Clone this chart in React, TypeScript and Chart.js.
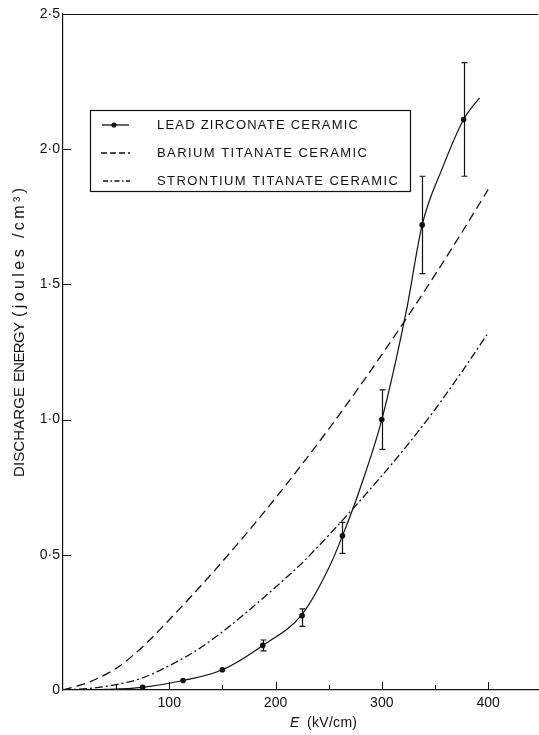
import React, { useEffect, useRef } from 'react';
import { Chart, registerables } from 'chart.js';

Chart.register(...registerables);

// Lead zirconate measured points with error bars
const leadE = [75, 113, 150, 188, 225, 263, 300, 338, 377];
const leadEnergy = [0.01, 0.035, 0.075, 0.165, 0.275, 0.57, 1.0, 1.72, 2.11];
const leadErrLow: (number | null)[] = [null, null, null, 0.145, 0.235, 0.505, 0.89, 1.54, 1.9];
const leadErrHigh: (number | null)[] = [null, null, null, 0.185, 0.3, 0.62, 1.11, 1.9, 2.32];

// Lead zirconate fitted curve
const leadCurveE = [0, 40, 75, 113, 150, 188, 225, 250, 263, 280, 300, 323, 338, 357, 377, 392];
const leadCurveEnergy = [0, 0.002, 0.01, 0.035, 0.075, 0.165, 0.28, 0.45, 0.57, 0.75, 1.0, 1.4, 1.72, 1.93, 2.11, 2.19];

// Barium titanate curve
const bariumE = [0, 25, 50, 75, 100, 125, 150, 175, 200, 225, 250, 275, 300, 325, 350, 375, 400];
const bariumEnergy = [0, 0.03, 0.08, 0.16, 0.26, 0.365, 0.475, 0.59, 0.71, 0.835, 0.965, 1.1, 1.24, 1.385, 1.535, 1.69, 1.85];

// Strontium titanate curve
const strontiumE = [0, 25, 50, 75, 100, 125, 150, 175, 200, 225, 250, 275, 300, 325, 350, 375, 400];
const strontiumEnergy = [0, 0.006, 0.02, 0.045, 0.09, 0.145, 0.215, 0.295, 0.38, 0.47, 0.572, 0.68, 0.792, 0.91, 1.037, 1.175, 1.32];

const seriesLabels = ['LEAD ZIRCONATE CERAMIC', 'BARIUM TITANATE CERAMIC', 'STRONTIUM TITANATE CERAMIC'];
const yAxisTitleParts = ['DISCHARGE', 'ENERGY', '(joules /cm³)'];
const xAxisTitleSymbol = 'E';
const xAxisTitleUnit = '(kV/cm)';
const xMajorTicks = [100, 200, 300, 400];
const xMinorTicks = [50, 150, 250, 350];
const yTicks = [0.5, 1.0, 1.5, 2.0];

const FONT = '"Liberation Sans", Arial, sans-serif';
const INK = '#111';

function zip(xs: number[], ys: number[]) {
  return xs.map((x, i) => ({ x, y: ys[i] }));
}

function fitText(ctx: CanvasRenderingContext2D, text: string, target: number) {
  (ctx as any).letterSpacing = '0px';
  const w0 = ctx.measureText(text).width;
  const n = text.length;
  const ls = n > 1 ? (target - w0) / (n - 1) : 0;
  (ctx as any).letterSpacing = `${ls}px`;
}

const decorPlugin = {
  id: 'decor',
  afterDatasetsDraw(chart: any) {
    const ctx: CanvasRenderingContext2D = chart.ctx;
    const xs = chart.scales.x;
    const ys = chart.scales.y;
    ctx.save();
    ctx.strokeStyle = INK;
    ctx.fillStyle = INK;
    ctx.lineWidth = 1.2;
    leadE.forEach((e, i) => {
      const lo = leadErrLow[i];
      const hi = leadErrHigh[i];
      if (lo == null || hi == null) return;
      const px = Math.round(xs.getPixelForValue(e)) + 0.5;
      const pl = ys.getPixelForValue(lo);
      const ph = ys.getPixelForValue(hi);
      ctx.beginPath();
      ctx.moveTo(px, pl);
      ctx.lineTo(px, ph);
      ctx.moveTo(px - 3, pl);
      ctx.lineTo(px + 3, pl);
      ctx.moveTo(px - 3, ph);
      ctx.lineTo(px + 3, ph);
      ctx.stroke();
    });
    ctx.restore();
  },
  afterDraw(chart: any) {
    const ctx: CanvasRenderingContext2D = chart.ctx;
    const xs = chart.scales.x;
    const ys = chart.scales.y;
    const area = chart.chartArea;
    ctx.save();
    ctx.strokeStyle = INK;
    ctx.fillStyle = INK;
    ctx.lineWidth = 1;
    ctx.beginPath();
    ctx.moveTo(area.left, area.top + 0.5);
    ctx.lineTo(area.right, area.top + 0.5);
    ctx.stroke();
    ctx.beginPath();
    xMajorTicks.forEach((v) => {
      const p = Math.round(xs.getPixelForValue(v)) + 0.5;
      ctx.moveTo(p, area.bottom);
      ctx.lineTo(p, area.bottom - 8);
    });
    xMinorTicks.forEach((v) => {
      const p = Math.round(xs.getPixelForValue(v)) + 0.5;
      ctx.moveTo(p, area.bottom);
      ctx.lineTo(p, area.bottom - 5);
    });
    yTicks.forEach((v) => {
      const p = Math.round(ys.getPixelForValue(v)) + 0.5;
      ctx.moveTo(area.left, p);
      ctx.lineTo(area.left + 8, p);
    });
    ctx.stroke();

    // legend box
    ctx.lineWidth = 1.2;
    ctx.strokeRect(90.5, 110.5, 320, 81);
    const rowY = [125, 153, 181];
    const textW = [201, 210, 241];
    ctx.lineWidth = 1.3;
    ctx.beginPath();
    ctx.moveTo(102, rowY[0]);
    ctx.lineTo(129, rowY[0]);
    ctx.stroke();
    ctx.beginPath();
    ctx.arc(114, rowY[0], 2.6, 0, Math.PI * 2);
    ctx.fill();
    ctx.setLineDash([6, 3]);
    ctx.beginPath();
    ctx.moveTo(101, rowY[1]);
    ctx.lineTo(130, rowY[1]);
    ctx.stroke();
    ctx.setLineDash([5, 2.5, 1.5, 2.5]);
    ctx.beginPath();
    ctx.moveTo(103, rowY[2]);
    ctx.lineTo(130, rowY[2]);
    ctx.stroke();
    ctx.setLineDash([]);
    ctx.font = `13px ${FONT}`;
    ctx.textBaseline = 'middle';
    ctx.textAlign = 'left';
    seriesLabels.forEach((t, i) => {
      fitText(ctx, t, textW[i]);
      ctx.fillText(t, 157, rowY[i]);
    });

    // y title, drawn in three words along the axis
    const spans = [
      [387, 477],
      [322, 382],
      [188, 317],
    ];
    const sizes = [15, 15, 16];
    ctx.save();
    ctx.translate(20, 0);
    ctx.rotate(-Math.PI / 2);
    ctx.textAlign = 'left';
    ctx.textBaseline = 'middle';
    yAxisTitleParts.forEach((t, i) => {
      const [a, b] = spans[i];
      ctx.font = `${sizes[i]}px ${FONT}`;
      fitText(ctx, t, b - a);
      ctx.fillText(t, -b, 0);
    });
    ctx.restore();

    // x title
    (ctx as any).letterSpacing = '0px';
    ctx.textAlign = 'left';
    ctx.textBaseline = 'middle';
    ctx.font = `italic 14px ${FONT}`;
    ctx.fillText(xAxisTitleSymbol, 290, 723);
    ctx.font = `14px ${FONT}`;
    fitText(ctx, xAxisTitleUnit, 50);
    ctx.fillText(xAxisTitleUnit, 307, 723);
    (ctx as any).letterSpacing = '0px';
    ctx.restore();
  },
};

export default function App() {
  const ref = useRef<HTMLCanvasElement | null>(null);
  useEffect(() => {
    document.body.style.margin = '0';
    const canvas = ref.current;
    if (!canvas) return;
    const chart = new Chart(canvas, {
      type: 'scatter',
      data: {
        datasets: [
          {
            label: seriesLabels[0] + ' curve',
            data: zip(leadCurveE, leadCurveEnergy),
            showLine: true,
            borderColor: INK,
            borderWidth: 1.2,
            pointRadius: 0,
            cubicInterpolationMode: 'monotone',
          },
          {
            label: seriesLabels[0],
            data: zip(leadE, leadEnergy),
            showLine: false,
            backgroundColor: INK,
            borderColor: INK,
            pointRadius: 2.8,
            pointBorderWidth: 0,
          },
          {
            label: seriesLabels[1],
            data: zip(bariumE, bariumEnergy),
            showLine: true,
            borderColor: INK,
            borderWidth: 1.3,
            borderDash: [9, 5],
            pointRadius: 0,
            cubicInterpolationMode: 'monotone',
          },
          {
            label: seriesLabels[2],
            data: zip(strontiumE, strontiumEnergy),
            showLine: true,
            borderColor: INK,
            borderWidth: 1.3,
            borderDash: [8, 3, 2, 3],
            pointRadius: 0,
            cubicInterpolationMode: 'monotone',
          },
        ],
      },
      options: {
        responsive: false,
        animation: false,
        layout: { autoPadding: false, padding: { top: 14, right: 0, left: 0, bottom: 0 } },
        plugins: {
          legend: { display: false },
          tooltip: { enabled: false },
        },
        scales: {
          x: {
            type: 'linear',
            min: 0,
            max: 447,
            afterFit: (s: any) => {
              s.height = 45;
            },
            grid: { display: false, drawTicks: false },
            border: { display: true, color: INK, width: 1.2 },
            ticks: {
              stepSize: 50,
              autoSkip: false,
              maxRotation: 0,
              padding: 5,
              color: INK,
              font: { family: FONT, size: 14 },
              callback: (v: any) => {
                const n = Number(v);
                return xMajorTicks.includes(n) ? String(n) : '';
              },
            },
          },
          y: {
            type: 'linear',
            min: 0,
            max: 2.5,
            afterFit: (s: any) => {
              s.width = 63;
            },
            grid: { display: false, drawTicks: false },
            border: { display: true, color: INK, width: 1.2 },
            ticks: {
              stepSize: 0.5,
              padding: 3,
              color: INK,
              font: { family: FONT, size: 14 },
              callback: (v: any) => {
                const n = Math.round(Number(v) * 10) / 10;
                return n === 0 ? '0' : n.toFixed(1).replace('.', '·');
              },
            },
          },
        },
      },
      plugins: [decorPlugin],
    } as any);
    return () => chart.destroy();
  }, []);
  return (
    <div style={{ width: 539, height: 735, overflow: 'hidden' }}>
      <canvas ref={ref} width={543} height={735} style={{ display: 'block' }} />
    </div>
  );
}
